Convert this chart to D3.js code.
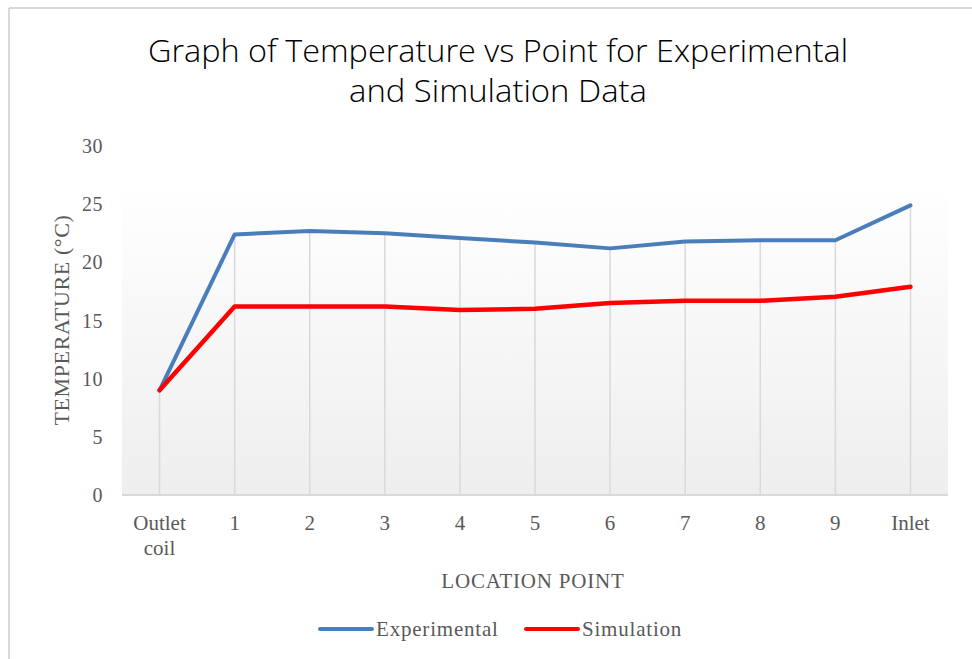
<!DOCTYPE html>
<html>
<head>
<meta charset="utf-8">
<script src="https://cdn.jsdelivr.net/npm/d3@7"></script>
<style>
  body { margin: 0; background: #fff; }
  svg text { font-family: "Liberation Serif", "Times New Roman", serif; fill: #595959; }
  .title { font-family: "Liberation Sans Narrow", "Open Sans", "Liberation Sans", sans-serif; fill: #000; font-weight: 300; }
</style>
</head>
<body>
<svg id="chart"></svg>
<script>
const categories = ["Outlet coil", "1", "2", "3", "4", "5", "6", "7", "8", "9", "Inlet"];
const experimental = [9.0, 22.4, 22.7, 22.5, 22.1, 21.7, 21.2, 21.8, 21.9, 21.9, 24.9];
const simulation = [9.0, 16.2, 16.2, 16.2, 15.9, 16.0, 16.5, 16.7, 16.7, 17.05, 17.9];
const yTicks = [0, 5, 10, 15, 20, 25, 30];
const seriesNames = ["Experimental", "Simulation"];
const colors = ["#4a7ebb", "#ff0000"];

const svgWidth = 972, svgHeight = 659;
const margin = {top: 146, right: 24, bottom: 164, left: 122},
    width = svgWidth - margin.left - margin.right,
    height = svgHeight - margin.top - margin.bottom;

const chart = d3.select("#chart")
    .attr("width", svgWidth)
    .attr("height", svgHeight);

// outer frame (top and left edge visible)
chart.append("line").attr("x1", 9).attr("x2", svgWidth).attr("y1", 8).attr("y2", 8)
    .style("stroke", "#d9d9d9").style("stroke-width", 2);
chart.append("line").attr("x1", 9).attr("x2", 9).attr("y1", 8).attr("y2", svgHeight)
    .style("stroke", "#d9d9d9").style("stroke-width", 2);

// title
const titleLines = ["Graph of Temperature vs Point for Experimental", "and Simulation Data"];
const titleWidths = [700, 298];
chart.selectAll(".title").data(titleLines).enter()
    .append("text")
    .attr("class", "title")
    .attr("x", 498)
    .attr("y", (d, i) => 62 + i * 40)
    .attr("text-anchor", "middle")
    .attr("textLength", (d, i) => titleWidths[i])
    .attr("lengthAdjust", "spacingAndGlyphs")
    .style("font-size", "32px")
    .text(d => d);

const defs = chart.append("defs");
const grad = defs.append("linearGradient").attr("id", "plotbg")
    .attr("x1", 0).attr("x2", 0).attr("y1", 0).attr("y2", 1);
grad.append("stop").attr("offset", "0%").attr("stop-color", "#ffffff");
grad.append("stop").attr("offset", "100%").attr("stop-color", "#eeeeee");

const innerChart = chart.append("g")
    .attr("transform", "translate(" + margin.left + "," + margin.top + ")");

var xScale = d3.scaleBand().domain(categories).range([0, width]);
var yScale = d3.scaleLinear().domain([0, 30]).range([height, 0]);

// plot area background
innerChart.append("rect")
    .attr("x", 0).attr("y", 39)
    .attr("width", width).attr("height", height - 39)
    .style("fill", "url(#plotbg)");

// drop lines
innerChart.append("g").selectAll("line")
    .data(categories)
    .enter()
    .append("line")
    .attr("x1", d => xScale(d) + xScale.bandwidth() / 2)
    .attr("x2", d => xScale(d) + xScale.bandwidth() / 2)
    .attr("y1", (d, i) => yScale(Math.max(experimental[i], simulation[i])))
    .attr("y2", yScale(0))
    .style("stroke", "#d9d9d9")
    .style("stroke-width", 1.5);

// x axis line
innerChart.append("line")
    .attr("x1", 0).attr("x2", width)
    .attr("y1", yScale(0)).attr("y2", yScale(0))
    .style("stroke", "#d9d9d9").style("stroke-width", 2);

// y tick labels
innerChart.append("g").selectAll("text")
    .data(yTicks)
    .enter()
    .append("text")
    .attr("x", -19)
    .attr("y", d => yScale(d))
    .attr("dy", "0.35em")
    .attr("text-anchor", "end")
    .style("font-size", "20px")
    .style("letter-spacing", "0.5px")
    .text(d => d);

// x tick labels
const xLabels = innerChart.append("g").selectAll("text")
    .data(categories)
    .enter()
    .append("text")
    .attr("x", d => xScale(d) + xScale.bandwidth() / 2)
    .attr("y", height + 35)
    .attr("text-anchor", "middle")
    .style("font-size", "21px");
xLabels.selectAll("tspan")
    .data(d => d.split(" "))
    .enter()
    .append("tspan")
    .attr("x", function() { return d3.select(this.parentNode).attr("x"); })
    .attr("dy", (d, i) => i == 0 ? 0 : 25)
    .text(d => d);

// axis titles
innerChart.append("text")
    .attr("x", width / 2 - 2)
    .attr("y", height + 93)
    .attr("text-anchor", "middle")
    .style("font-size", "21px")
    .style("letter-spacing", "0.8px")
    .text("LOCATION POINT");

innerChart.append("text")
    .attr("transform", "translate(" + (62 - margin.left + 7) + "," + (320 - margin.top) + ") rotate(-90)")
    .attr("text-anchor", "middle")
    .style("font-size", "22px")
    .style("letter-spacing", "0.6px")
    .text("TEMPERATURE (\u00B0C)");

var valueline = d3.line()
    .x((d, i) => xScale(categories[i]) + xScale.bandwidth() / 2)
    .y(d => yScale(d))
    .curve(d3.curveLinear);

[experimental, simulation].forEach(function(series, k) {
    innerChart.append("path")
        .datum(series)
        .attr("d", valueline)
        .style("fill", "none")
        .style("stroke", colors[k])
        .style("stroke-width", k == 0 ? 4 : 4.5)
        .style("stroke-linejoin", "round")
        .style("stroke-linecap", "round");
});

// legend
const legendX = [320, 526];
const legend = chart.append("g").selectAll("g")
    .data(seriesNames)
    .enter()
    .append("g")
    .attr("transform", (d, i) => "translate(" + legendX[i] + ",629)");
legend.append("line")
    .attr("x1", 0).attr("x2", 52)
    .style("stroke", (d, i) => colors[i])
    .style("stroke-width", 4)
    .style("stroke-linecap", "round");
legend.append("text")
    .attr("x", 56)
    .attr("dy", "0.35em")
    .style("font-size", "21px")
    .style("letter-spacing", "0.8px")
    .text(d => d);
</script>
</body>
</html>
